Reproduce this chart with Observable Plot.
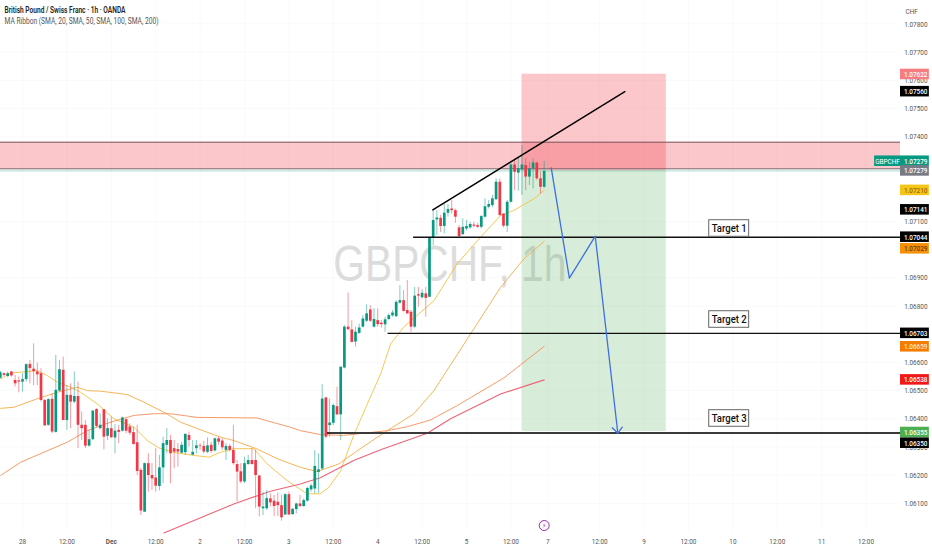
<!DOCTYPE html>
<html><head><meta charset="utf-8">
<script src="https://cdn.jsdelivr.net/npm/d3@7"></script>
<script src="https://cdn.jsdelivr.net/npm/@observablehq/plot@0.6"></script>
<style>html,body{margin:0;padding:0;background:#fff}svg{display:block}</style>
</head><body><div id="chart"></div>
<script>
// prices are stored in 1/100000 of a franc
const firstHour = -6;
const opens = [106544,106560,106550,106566,106536,106534,106530,106539,106593,106576,
106566,106560,106465,106377,106469,106352,106498,106572,106394,106483,
106459,106479,106377,106377,106303,106326,106433,106365,106432,106338,
106365,106332,106359,106356,106397,106371,106351,106315,106217,106069,
106241,106199,106190,106160,106226,106306,106323,106294,106291,106278,
106280,106341,106271,106294,106304,106302,106281,106306,106286,106329,
106321,106288,106302,106288,106238,106212,106176,106238,106252,106252,
106197,106081,106081,106116,106108,106104,106092,106059,106131,106060,
106078,106098,106089,106108,106148,106151,106210,106222,106474,106376,
106384,106443,106414,106580,106725,106715,106672,106703,106725,106746,
106786,106725,106748,106739,106733,106752,106765,106762,106810,106819,
106784,106778,106725,106840,106829,106843,106831,107041,107105,107111,
107082,107129,107144,107138,107077,107053,107073,107077,107087,107085,
107079,107115,107150,107156,107177,107239,107126,107083,107168,107300,
107271,107282,107298,107257,107286,107307,107251,107221];
const closes = [106563,106554,106560,106552,106524,106530,106539,106592,106578,106567,
106556,106465,106375,106468,106353,106501,106574,106394,106483,106459,
106479,106377,106365,106303,106326,106427,106373,106377,106335,106365,
106333,106356,106352,106403,106356,106349,106309,106213,106073,106241,
106199,106187,106161,106226,106312,106323,106276,106282,106282,106306,
106345,106323,106281,106304,106302,106282,106304,106284,106329,106317,
106297,106302,106288,106241,106211,106176,106241,106252,106238,106199,
106087,106087,106117,106102,106089,106092,106049,106131,106059,106079,
106098,106089,106110,106153,106162,106231,106219,106470,106335,106385,
106447,106414,106583,106725,106716,106671,106707,106722,106754,106772,
106746,106752,106734,106734,106751,106766,106775,106813,106819,106781,
106772,106725,106835,106835,106845,106827,107041,107103,107112,107082,
107129,107142,107138,107115,107046,107079,107082,107089,107083,107079,
107117,107152,107160,107180,107239,107121,107083,107168,107300,107274,
107286,107300,107257,107286,107307,107251,107221,107277];
const highs = [106569,106562,106566,106569,106554,106548,106560,106595,106607,106666,
106598,106578,106468,106471,106489,106625,106607,106619,106518,106524,
106566,106530,106424,106394,106359,106430,106436,106418,106432,106400,
106406,106380,106377,106406,106400,106382,106371,106377,106223,106243,
106276,106241,106294,106270,106335,106365,106341,106323,106312,106317,
106345,106353,106323,106323,106312,106320,106332,106317,106332,106335,
106329,106312,106309,106377,106252,106241,106264,106270,106294,106288,
106199,106140,106146,106134,106128,106137,106128,106134,106140,106082,
106101,106128,106116,106157,106169,106287,106275,106521,106476,106470,
106453,106512,106583,106731,106846,106748,106725,106736,106766,106804,
106801,106790,106790,106748,106760,106772,106784,106819,106872,106855,
106890,106784,106866,106866,106857,106866,107044,107138,107138,107121,
107160,107160,107174,107144,107085,107109,107103,107097,107097,107093,
107121,107180,107174,107192,107251,107251,107126,107174,107304,107322,
107327,107369,107322,107310,107322,107310,107274,107313];
const lows = [106541,106550,106546,106548,106513,106492,106495,106530,106524,106518,
106518,106459,106373,106373,106347,106349,106495,106394,106359,106365,
106453,106294,106323,106294,106300,106323,106368,106361,106290,106323,
106329,106276,106312,106353,106347,106341,106306,106199,106057,106068,
106140,106146,106140,106144,106170,106276,106170,106223,106229,106276,
106270,106300,106270,106276,106288,106276,106276,106278,106282,106306,
106288,106252,106282,106235,106105,106170,106170,106235,106235,106081,
106052,106057,106075,106087,106054,106054,106037,106057,106057,106058,
106063,106086,106086,106104,106140,106134,106136,106216,106329,106335,
106376,106411,106323,106577,106713,106669,106654,106699,106722,106742,
106742,106722,106725,106722,106707,106748,106760,106760,106807,106778,
106770,106707,106719,106796,106825,106760,106829,107014,107050,107061,
107056,107115,107126,107093,107044,107050,107067,107072,107077,107076,
107073,107112,107144,107148,107174,107117,107077,107061,107164,107209,
107207,107192,107209,107227,107215,107245,107197,107218];

const sma20Hours = [-5.9,-3.2,4,6.7,9.4,13,15.7,20.2,24.7,30.1,33.7,36.8,40.9,46.3,50.4,53.5,57.1,62.5,66.1,71.5,76.9,80.4,82.8,86,89.5,93.2,96.8,99.5,103,111.2,117.5,123.8,129.2,132.8,138.2,141];
const sma20Values = [106542,106562,106571,106553,106530,106512,106494,106453,106400,106370,106323,106297,106281,106270,106264,106281,106294,106294,106240,106181,106134,106134,106157,106216,106341,106453,106559,106666,106725,106819,106950,107044,107121,107139,107180,107210];
const sma50Hours = [-5.9,-2.3,4,9.4,14.8,17.5,21.1,28.3,32.8,39.1,42.7,48.1,53.5,57.1,63.4,68.9,75.1,79.6,85.5,90.5,98.6,105.7,111.2,121.1,129.2,135.5,141];
const sma50Values = [106437,106441,106471,106494,106512,106500,106498,106486,106459,106417,106388,106361,106335,106323,106293,106258,106228,106213,106240,106287,106358,106417,106500,106701,106866,106967,107029];
const sma100Hours = [-5.9,-0.5,12.1,17.5,23.8,30.1,35.5,40,47.2,63.4,72.4,75.1,80.5,86.8,98.6,104,110.3,117.5,130.1,141];
const sma100Values = [106199,106246,106317,106358,106388,106412,106418,106418,106405,106403,106370,106358,106344,106341,106358,106372,106396,106447,106545,106657];
const sma200Hours = [38.2,57.1,64.3,67,75.1,80.5,89.5,96.8,109.4,115.7,129.2,141];
const sma200Values = [105995,106098,106131,106143,106169,106191,106252,106290,106349,106400,106488,106538];

const maColors = ["#f5c242","#f6ab45","#f59058","#ee6478"];

const xTicks = [0,12,24,36,48,60,72,84,96,108,120,132,142,156,168,180,192,204,216,228];
const xLabels = ["28","12:00","Dec","12:00","2","12:00","3","12:00","4","12:00","5","12:00","7","12:00","9","12:00","10","12:00","11","12:00"];
const yTicks = [1.061,1.062,1.063,1.064,1.065,1.066,1.068,1.069,1.071,1.074,1.075,1.076,1.077,1.078];

const bandPrices = [1.073808,1.072865];
const lastPrice = 1.07279;
const stopTop = 1.07622, targetBottom = 1.06355, boxStart = 135, boxEnd = 174;

const targetPrices = [1.07044,1.06703,1.0635];
const targetStarts = [105.7,98.8,82.4];
const targetWidths = [1.4,1.4,2];
const targetColors = ["#111","#111","#3a3a3a"];
const targetNames = ["Target 1","Target 2","Target 3"];
const targetLabelPrices = [1.070748,1.067521,1.064011];

const wedgeHours = [110.9,162.8];
const wedgePrices = [1.07141,1.0756];
const pathHours = [142.9,147.8,154.8,160.9];
const pathPrices = [1.0729,1.068986,1.070475,1.063489];
const arrowHours = [159.4,160.9,162.1];
const arrowPrices = [1.063681,1.063489,1.063702];

const tagTexts = ["1.07622","1.07560","1.07279","1.07279","1.07210","1.07141","1.07044","1.07029","1.06703","1.06659","1.06538","1.06355","1.06350"];
const tagPrices = [1.07621,1.0756,1.073134,1.07279,1.0721,1.07141,1.07044,1.070028,1.06703,1.066553,1.06538,1.063514,1.063135];
const tagFills = ["#f77c80","#000","#089981","#787b86","#f5c518","#000","#000","#f79009","#000","#f57c00","#f01818","#4caf50","#000"];
const tagInks = ["#fff","#fff","#fff","#fff","#a5650a","#fff","#fff","#6e3d00","#fff","#ffe9d0","#fff","#fff","#fff"];

const candles = opens.map((o,i)=>({h:firstHour+i,o:o/1e5,c:closes[i]/1e5,hi:highs[i]/1e5,lo:lows[i]/1e5}));
const zipLine = (hs,vs,scale=1)=>hs.map((h,i)=>({h,p:vs[i]/scale}));
const maLines = [[sma20Hours,sma20Values],[sma50Hours,sma50Values],[sma100Hours,sma100Values],[sma200Hours,sma200Values]];
const targets = targetPrices.map((p,i)=>({p,s:targetStarts[i],w:targetWidths[i],k:targetColors[i],n:targetNames[i],lp:targetLabelPrices[i]}));
const tags = tagTexts.map((t,i)=>({t,p:tagPrices[i],f:tagFills[i],k:tagInks[i]}));
const ups = d=>d.c>=d.o;
const colr = d=>ups(d)?"#089981":"#f23645";
const chartEnd = 237.3, tagEnd = 245.1, tagHalf = 0.000187, labelHalf = 0.000294;

const svg = Plot.plot({
  width:932,height:550,marginTop:0,marginLeft:0,marginRight:32,marginBottom:18,
  style:{fontFamily:"Roboto, sans-serif",background:"#fff",overflow:"visible"},
  x:{type:"linear",domain:[-5.946,chartEnd],axis:null},
  y:{type:"linear",domain:[1.059968,1.078833],axis:null},
  marks:[
    Plot.gridY(yTicks,{stroke:"#000",strokeOpacity:0.025}),
    Plot.gridX(xTicks,{stroke:"#000",strokeOpacity:0.025}),
    Plot.text(["GBPCHF, 1h"],{x:[115.5],y:[1.069436],text:d=>d,fontSize:50,fontFamily:"Liberation Sans",fill:"#dcdcdc",lineAnchor:"middle"}),
    Plot.rect([0],{x1:-5.946,x2:chartEnd,y1:bandPrices[1],y2:bandPrices[0],fill:"#f23645",fillOpacity:0.28}),
    Plot.rect([0],{x1:boxStart,x2:boxEnd,y1:lastPrice,y2:stopTop,fill:"#f23645",fillOpacity:0.28}),
    Plot.rect([0],{x1:boxStart,x2:boxEnd,y1:targetBottom,y2:lastPrice,fill:"#4caf50",fillOpacity:0.22}),
    Plot.ruleY(bandPrices,{stroke:"#7a5a60",strokeWidth:1}),
    Plot.ruleY([lastPrice],{stroke:"#089981",strokeWidth:0.7,strokeOpacity:0.5}),
    ...maLines.map(([hs,vs],i)=>Plot.line(zipLine(hs,vs,1e5),{x:"h",y:"p",stroke:maColors[i],strokeWidth:i===3?1.1:0.9,curve:"linear"})),
    Plot.ruleX(candles,{x:"h",y1:"lo",y2:"hi",stroke:colr,strokeWidth:1,strokeOpacity:0.5}),
    Plot.ruleX(candles,{x:"h",y1:"o",y2:"c",stroke:colr,strokeWidth:2.7}),
    Plot.ruleY(targets,{y:"p",x1:"s",x2:chartEnd,stroke:"k",strokeWidth:"w"}),
    Plot.line(zipLine(wedgeHours,wedgePrices),{x:"h",y:"p",stroke:"#000",strokeWidth:1.5}),
    Plot.line(zipLine(pathHours,pathPrices),{x:"h",y:"p",stroke:"#3f6fe0",strokeWidth:1.3}),
    Plot.line(zipLine(arrowHours,arrowPrices),{x:"h",y:"p",stroke:"#3f6fe0",strokeWidth:1.3}),
    Plot.rect(targets,{x1:185.6,x2:196.4,y1:d=>d.lp-labelHalf,y2:d=>d.lp+labelHalf,fill:"#fff",stroke:"#666",strokeWidth:1}),
    Plot.text(targets,{x:191,y:"lp",text:"n",fontSize:11,fontFamily:"Roboto",fontWeight:500,fill:"#111",lineAnchor:"middle"}),
    Plot.dot([0],{x:[141],y:[1.060216],r:5,stroke:"#9c27b0",fill:"#fff",strokeWidth:1}),
    Plot.text(["⚡"],{x:[141],y:[1.060216],text:d=>d,fontSize:7,fontFamily:"DejaVu Sans",fill:"#9c27b0",lineAnchor:"middle"}),
    Plot.axisX({ticks:xTicks,tickFormat:d=>xLabels[xTicks.indexOf(d)],tickSize:0,tickPadding:6,fontSize:8,fill:"#555",label:null}),
    Plot.axisY({anchor:"right",ticks:yTicks,tickFormat:d3.format(".5f"),tickSize:0,tickPadding:27,textAnchor:"end",fontSize:8,fill:"#555",label:null}),
    Plot.rect(tags,{x1:chartEnd,x2:tagEnd,y1:d=>d.p-tagHalf,y2:d=>d.p+tagHalf,fill:"f"}),
    Plot.text(tags,{x:244.6,y:"p",text:"t",fill:"k",fontSize:8,fontWeight:500,textAnchor:"end",lineAnchor:"middle"}),
    Plot.rect([0],{x1:230.3,x2:chartEnd,y1:tagPrices[2]-tagHalf,y2:tagPrices[2]+tagHalf,fill:"#089981"}),
    Plot.text(["GBPCHF"],{x:[233.8],y:[tagPrices[2]],text:d=>d,fill:"#fff",fontSize:8,lineAnchor:"middle"}),
    Plot.text(["CHF"],{x:[240.3],y:[1.078443],text:d=>d,fill:"#555",fontSize:8,lineAnchor:"middle"}),
    Plot.text(["British Pound / Swiss Franc · 1h · OANDA"],{frameAnchor:"top-left",dx:4,dy:6,text:d=>d,fontSize:9,fontWeight:600,fill:"#222"}),
    Plot.text(["MA Ribbon (SMA, 20, SMA, 50, SMA, 100, SMA, 200)"],{frameAnchor:"top-left",dx:4,dy:17,text:d=>d,fontSize:9,fill:"#555"})
  ]
});
document.getElementById("chart").append(svg);
// the reference's lettering is narrow: tighten every text to its proportions
const fixedWidths = {"GBPCHF, 1h":233,"Target 1":35,"Target 2":35,"Target 3":35,
  "British Pound / Swiss Franc · 1h · OANDA":121,"MA Ribbon (SMA, 20, SMA, 50, SMA, 100, SMA, 200)":154};
svg.querySelectorAll("text").forEach(t=>{
  const s=t.textContent;
  if(!s) return;
  const w = fixedWidths[s] ?? t.getComputedTextLength()*0.8;
  t.setAttribute("textLength",w);
  t.setAttribute("lengthAdjust","spacingAndGlyphs");
  if(s==="Dec") t.setAttribute("font-weight","700");
});
</script>
</body></html>
